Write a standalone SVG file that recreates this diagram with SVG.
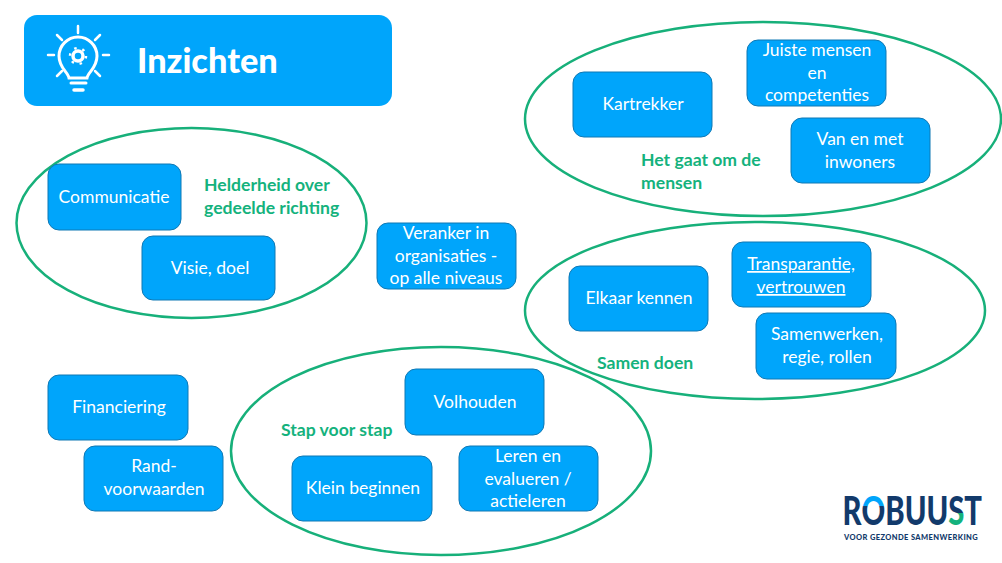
<svg xmlns="http://www.w3.org/2000/svg" width="1002" height="563" viewBox="0 0 1002 563">
<style>
text{font-family:Lato,"Liberation Sans",sans-serif}
.n{fill:#00a5fb;stroke:#0f78b4;stroke-width:1}
.t{fill:#fff;font-size:17.500px;text-anchor:middle}
.g{fill:#14b27d;font-size:17.600px;font-weight:700}
.e{fill:none;stroke:#17b07a;stroke-width:2.500}
.i{fill:none;stroke:#fff;stroke-linecap:round}
</style>
<defs>
<linearGradient id="go" x1="0" y1="0" x2="0" y2="1"><stop offset=".42" stop-color="#00a5fb"/><stop offset=".42" stop-color="#123a6b"/></linearGradient>
<linearGradient id="gs" x1="0" y1="0" x2="0" y2="1"><stop offset=".58" stop-color="#123a6b"/><stop offset=".58" stop-color="#14b27d"/></linearGradient>
</defs>
<rect width="1002" height="563" fill="#fff"/>
<g id="connectors"></g>
<g id="groups">
<ellipse class="e" cx="763" cy="119" rx="238" ry="97"/>
<ellipse class="e" cx="755" cy="310.500" rx="230" ry="88.500"/>
<ellipse class="e" cx="191.500" cy="223" rx="175" ry="95"/>
<ellipse class="e" cx="441" cy="451" rx="210" ry="104"/>
</g>
<g id="header">
<rect x="24" y="15" width="368" height="91" rx="13" fill="#00a5fb"/>
<g class="i">
<path d="M78 26v7M57 35l5 5M100 35l-5 5M48 55h6M103 55h6M57 76l5-5M100 76l-5-5" stroke-width="2.500"/>
<path d="M69 78c-1-6-10-10-10-22a19 19 0 0 1 38 0c0 12-9 16-10 22z" stroke-width="3"/>
<circle cx="78" cy="56" r="5" stroke-width="3.500"/>
<circle cx="78" cy="56" r="8" stroke-width="2.500" stroke-dasharray="2.500 5.900" stroke-linecap="butt"/>
<path d="M71 83h15" stroke-width="3"/>
<path d="M74 90h9" stroke-width="3.500"/>
</g>
<text x="137" y="73" fill="#fff" font-size="34.300" font-weight="900">Inzichten</text>
</g>
<g id="n-kartrekker"><rect class="n" x="573" y="72" width="139" height="65" rx="11"/><text class="t" x="643" y="110">Kartrekker</text></g>
<g id="n-juiste"><rect class="n" x="747" y="40" width="139" height="66" rx="11"/><text class="t" x="817" y="56">Juiste mensen</text><text class="t" x="817" y="79">en</text><text class="t" x="817" y="101">competenties</text></g>
<g id="n-inwoners"><rect class="n" x="791" y="118" width="139" height="65" rx="11"/><text class="t" x="860" y="145">Van en met</text><text class="t" x="860" y="168">inwoners</text></g>
<g id="n-communicatie"><rect class="n" x="48" y="164" width="133" height="66" rx="11"/><text class="t" x="114" y="203">Communicatie</text></g>
<g id="n-visie"><rect class="n" x="142" y="236" width="133" height="64" rx="11"/><text class="t" x="210" y="274">Visie, doel</text></g>
<g id="n-veranker"><rect class="n" x="377" y="223" width="139" height="66" rx="11"/><text class="t" x="446" y="239">Veranker in</text><text class="t" x="446" y="262">organisaties -</text><text class="t" x="446" y="284">op alle niveaus</text></g>
<g id="n-elkaar"><rect class="n" x="569" y="266" width="139" height="65" rx="11"/><text class="t" x="639" y="304">Elkaar kennen</text></g>
<g id="n-transparantie"><rect class="n" x="732" y="242" width="139" height="65" rx="11"/><text class="t" x="801" y="270" text-decoration="underline">Transparantie,</text><text class="t" x="801" y="293" text-decoration="underline">vertrouwen</text></g>
<g id="n-samenwerken"><rect class="n" x="756" y="313" width="140" height="66" rx="11"/><text class="t" x="827" y="340">Samenwerken,</text><text class="t" x="827" y="363">regie, rollen</text></g>
<g id="n-financiering"><rect class="n" x="48" y="375" width="140" height="65" rx="11"/><text class="t" x="119" y="413">Financiering</text></g>
<g id="n-rand"><rect class="n" x="84" y="446" width="139" height="65" rx="11"/><text class="t" x="154" y="472">Rand-</text><text class="t" x="154" y="495">voorwaarden</text></g>
<g id="n-volhouden"><rect class="n" x="405" y="369" width="139" height="66" rx="11"/><text class="t" x="475" y="408">Volhouden</text></g>
<g id="n-klein"><rect class="n" x="292" y="456" width="140" height="65" rx="11"/><text class="t" x="363" y="494">Klein beginnen</text></g>
<g id="n-leren"><rect class="n" x="459" y="446" width="139" height="65" rx="11"/><text class="t" x="528" y="462">Leren en</text><text class="t" x="528" y="485">evalueren /</text><text class="t" x="528" y="507">actieleren</text></g>
<g id="labels">
<text class="g" x="204" y="191">Helderheid over</text>
<text class="g" x="204" y="214">gedeelde richting</text>
<text class="g" x="641" y="166">Het gaat om de</text>
<text class="g" x="641" y="189">mensen</text>
<text class="g" x="597" y="369">Samen doen</text>
<text class="g" x="281" y="436">Stap voor stap</text>
</g>
<g id="logo">
<text transform="translate(842.500 525) scale(.75 1)" font-size="39" font-weight="900" fill="#123a6b">R<tspan fill="url(#go)">O</tspan>BUU<tspan fill="url(#gs)">S</tspan>T</text>
<text x="844" y="540" font-size="7.500" font-weight="900" fill="#123a6b" letter-spacing=".4">VOOR GEZONDE SAMENWERKING</text>
</g>
</svg>
